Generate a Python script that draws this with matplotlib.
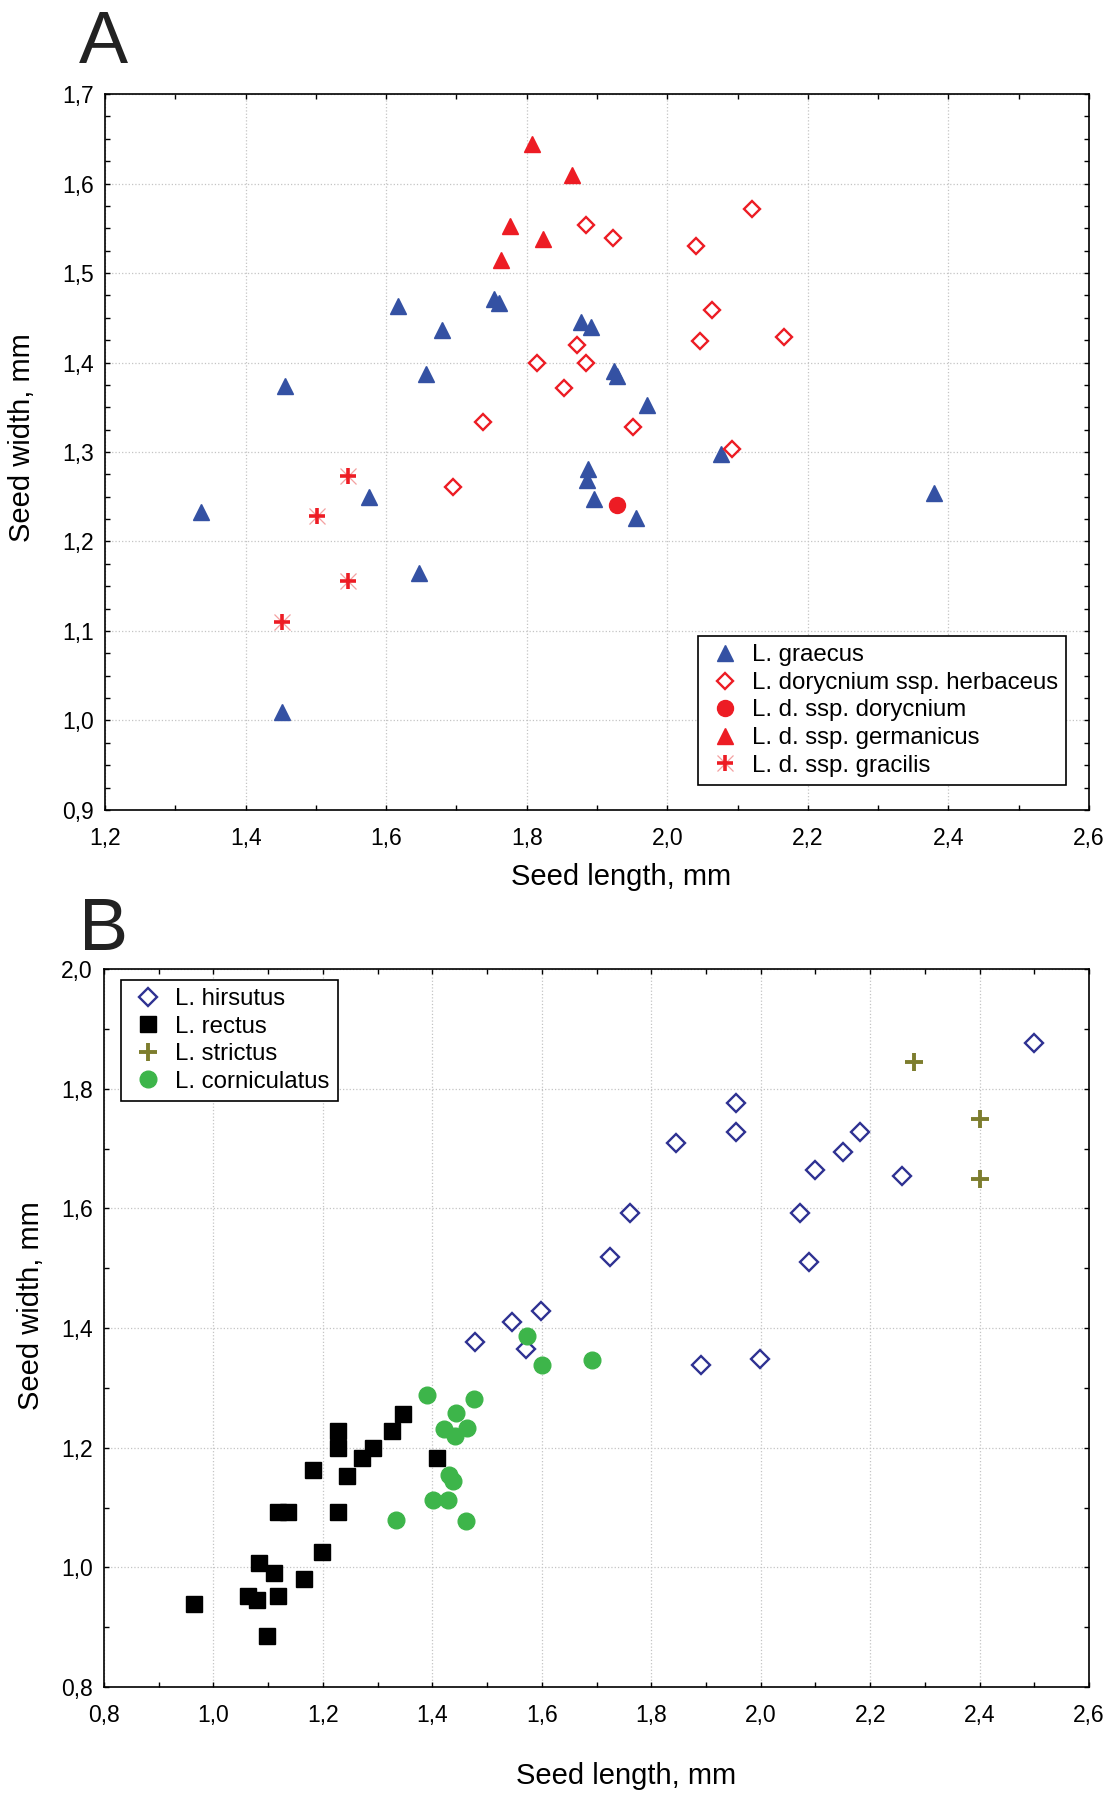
import matplotlib
matplotlib.use("Agg")
import matplotlib.pyplot as plt
from matplotlib.ticker import MultipleLocator, FuncFormatter
from matplotlib.legend_handler import HandlerTuple

plt.rcParams['font.family'] = ['Liberation Sans', 'DejaVu Sans']

# ---- panel A data ----
graecus_x = [1.337, 1.456, 1.452, 1.617, 1.679, 1.656, 1.575, 1.646, 1.753, 1.760, 1.877,
             1.892, 1.924, 1.928, 1.971, 1.887, 1.886, 1.896, 1.956, 2.077, 2.380]
graecus_y = [1.233, 1.374, 1.010, 1.463, 1.436, 1.387, 1.250, 1.165, 1.471, 1.467, 1.445,
             1.440, 1.391, 1.385, 1.352, 1.281, 1.269, 1.248, 1.226, 1.298, 1.254]
herbaceus_x = [2.120, 1.885, 1.923, 2.041, 2.064, 2.047, 2.166, 1.872, 1.815, 1.885, 1.853,
               1.951, 2.092, 1.738, 1.695]
herbaceus_y = [1.571, 1.554, 1.539, 1.530, 1.459, 1.424, 1.429, 1.420, 1.399, 1.400, 1.372,
               1.328, 1.303, 1.334, 1.261]
dorycnium_x = [1.928]
dorycnium_y = [1.241]
germanicus_x = [1.808, 1.864, 1.776, 1.823, 1.763]
germanicus_y = [1.644, 1.609, 1.553, 1.538, 1.515]
gracilis_x = [1.546, 1.501, 1.546, 1.452]
gracilis_y = [1.273, 1.228, 1.156, 1.110]

# ---- panel B data ----
hirsutus_x = [2.500, 1.955, 1.955, 1.845, 2.182, 2.151, 2.099, 2.259, 2.071, 2.088, 1.762,
              1.725, 1.599, 1.545, 1.478, 1.572, 1.891, 1.998]
hirsutus_y = [1.876, 1.776, 1.728, 1.710, 1.728, 1.695, 1.665, 1.655, 1.592, 1.511, 1.592,
              1.519, 1.429, 1.411, 1.376, 1.365, 1.338, 1.348]
rectus_x = [0.965, 1.063, 1.079, 1.118, 1.097, 1.083, 1.110, 1.165, 1.198, 1.118, 1.137,
            1.228, 1.181, 1.244, 1.272, 1.291, 1.227, 1.228, 1.326, 1.346, 1.408]
rectus_y = [0.939, 0.953, 0.945, 0.953, 0.885, 1.008, 0.991, 0.981, 1.026, 1.092, 1.092,
            1.092, 1.163, 1.152, 1.183, 1.200, 1.199, 1.228, 1.228, 1.256, 1.183]
strictus_x = [2.281, 2.400, 2.400]
strictus_y = [1.845, 1.750, 1.649]
corniculatus_x = [1.390, 1.477, 1.444, 1.422, 1.463, 1.442, 1.430, 1.438, 1.402, 1.428,
                  1.334, 1.461, 1.573, 1.601, 1.692]
corniculatus_y = [1.288, 1.281, 1.258, 1.231, 1.233, 1.220, 1.155, 1.145, 1.112, 1.112,
                  1.079, 1.077, 1.387, 1.339, 1.347]

blue = '#3451a3'
red = '#ed1c24'
navy = '#2e3192'
olive = '#7d7d2e'
green = '#3db54a'

comma = FuncFormatter(lambda v, p: ('%.1f' % v).replace('.', ','))

fig = plt.figure(figsize=(11.15, 17.94), dpi=100)
axA = fig.add_axes([0.0942, 0.5485, 0.8825, 0.3991])
axB = fig.add_axes([0.0933, 0.0596, 0.8834, 0.4002])


def style(ax, xmaj, xmin, ymaj, ymin):
    ax.xaxis.set_major_locator(MultipleLocator(xmaj))
    ax.xaxis.set_minor_locator(MultipleLocator(xmin))
    ax.yaxis.set_major_locator(MultipleLocator(ymaj))
    ax.yaxis.set_minor_locator(MultipleLocator(ymin))
    ax.xaxis.set_major_formatter(comma)
    ax.yaxis.set_major_formatter(comma)
    ax.tick_params(which='both', direction='in', top=True, right=True,
                   length=3.5, width=1.0, labelsize=16.5)
    ax.tick_params(axis='x', which='major', pad=12)
    ax.tick_params(axis='y', which='major', pad=8)
    ax.grid(True, which='major', color='#c4c4c4', linestyle=':', linewidth=0.9)
    ax.set_axisbelow(True)
    for s in ax.spines.values():
        s.set_linewidth(1.2)
    ax.xaxis.label.set_va('center')
    ax.yaxis.label.set_va('center')


leg_kw = dict(fontsize=17.3, fancybox=False, framealpha=1, edgecolor='black', borderaxespad=0,
              handlelength=1.6, handletextpad=0.3, labelspacing=0.23, borderpad=0.35)

# ---- panel A ----
hA1, = axA.plot(graecus_x, graecus_y, '^', color=blue, ms=12, ls='none')
hA2, = axA.plot(herbaceus_x, herbaceus_y, 'D', mfc='white', mec=red, mew=1.7, ms=8.5, ls='none')
hA3, = axA.plot(dorycnium_x, dorycnium_y, 'o', color=red, ms=11.5, ls='none')
hA4, = axA.plot(germanicus_x, germanicus_y, '^', color=red, ms=12, ls='none')
hA5a, = axA.plot(gracilis_x, gracilis_y, 'x', color='#f4a0a0', ms=12, mew=0.9, ls='none')
hA5b, = axA.plot(gracilis_x, gracilis_y, '+', color=red, ms=12, mew=2.6, ls='none')

axA.set_xlim(1.2, 2.6)
axA.set_ylim(0.9, 1.7)
axA.set_xlabel('Seed length, mm', fontsize=21)
axA.set_ylabel('Seed width, mm', fontsize=21)
style(axA, 0.2, 0.1, 0.1, 0.025)
axA.xaxis.set_label_coords(0.524, -0.093)
axA.yaxis.set_label_coords(-0.084, 0.52)

legA = axA.legend([hA1, hA2, hA3, hA4, (hA5a, hA5b)],
                  ['L. graecus', 'L. dorycnium ssp. herbaceus', 'L. d. ssp. dorycnium',
                   'L. d. ssp. germanicus', 'L. d. ssp. gracilis'],
                  handler_map={tuple: HandlerTuple(ndivide=1)},
                  loc='lower right', bbox_to_anchor=(0.977, 0.035), **leg_kw)
legA.get_frame().set_linewidth(1.2)

# ---- panel B ----
hB1, = axB.plot(hirsutus_x, hirsutus_y, 'D', mfc='white', mec=navy, mew=1.7, ms=9, ls='none')
hB2, = axB.plot(rectus_x, rectus_y, 's', color='black', ms=12, ls='none')
hB3, = axB.plot(strictus_x, strictus_y, '+', color=olive, ms=12.5, mew=2.8, ls='none')
hB4, = axB.plot(corniculatus_x, corniculatus_y, 'o', color=green, ms=12, ls='none')

axB.set_xlim(0.8, 2.6)
axB.set_ylim(0.8, 2.0)
axB.set_xlabel('Seed length, mm', fontsize=21)
axB.set_ylabel('Seed width, mm', fontsize=21)
style(axB, 0.2, 0.1, 0.2, 0.1)
axB.xaxis.set_label_coords(0.53, -0.124)
axB.yaxis.set_label_coords(-0.074, 0.531)

legB = axB.legend([hB1, hB2, hB3, hB4],
                  ['L. hirsutus', 'L. rectus', 'L. strictus', 'L. corniculatus'],
                  loc='upper left', bbox_to_anchor=(0.017, 0.985), **leg_kw)
legB.get_frame().set_linewidth(1.2)

fig.text(79 / 1115, 1 - 63 / 1794, 'A', fontsize=53, va='baseline', ha='left', color='#222222')
fig.text(79 / 1115, 1 - 950 / 1794, 'B', fontsize=53, va='baseline', ha='left', color='#222222')

fig.savefig('out.png', dpi=100)
